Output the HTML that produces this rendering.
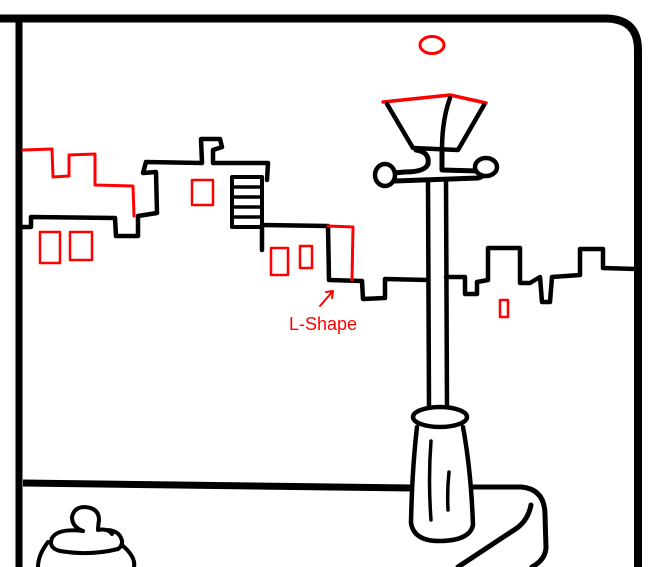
<!DOCTYPE html>
<html><head><meta charset="utf-8"><style>
html,body{margin:0;padding:0;background:#fff;}
svg{display:block}
</style></head><body>
<svg width="650" height="567" viewBox="0 0 650 567" xmlns="http://www.w3.org/2000/svg" fill="none" stroke-linejoin="round" stroke-linecap="round">
<path d="M0 18.5 H605 Q638 18.5 638 50 V567" stroke="#000" stroke-width="8" stroke-linecap="butt"/>
<line x1="19" y1="18" x2="19" y2="567" stroke="#000" stroke-width="7" stroke-linecap="butt"/>
<polyline points="23,150 52,149 53,177 69,176 69,155 95,154 95,185 133,186 134,216" stroke="#f00" stroke-width="3"/>
<polyline points="20,227 31,227 31,217 115,218 116,236 138,236 138,216 157,213 156,172 143,173 146,162 202,163 201,139 220,139 222,147 213,150 213,163 268,163 267,180" stroke="#000" stroke-width="4.5"/>
<rect x="232" y="177" width="30" height="50" stroke="#000" stroke-width="4"/>
<path d="M232 187H262M232 197H262M232 207H262M232 217H262" stroke="#000" stroke-width="3.5"/>
<polyline points="262,225 328,226 329,280 362,281 363,299 385,298 385,279 428,280" stroke="#000" stroke-width="4.5"/>
<line x1="262" y1="225" x2="262" y2="250" stroke="#000" stroke-width="4.5"/>
<polyline points="446,277 465,277 465,294 477,294 477,282 488,280 488,248 520,248 520,283 530,283 540,277 542,302 550,302 552,277 580,275 580,249 603,249 603,268 636,269" stroke="#000" stroke-width="4.5"/>
<polyline points="328,226 353,227 352,280" stroke="#f00" stroke-width="3"/>
<g stroke="#f00" stroke-width="2.5">
<rect x="40" y="232" width="20" height="31"/>
<rect x="70" y="232" width="22" height="28"/>
<rect x="192" y="180" width="21" height="25"/>
<rect x="271" y="248" width="17" height="27"/>
<rect x="300" y="246" width="12" height="22"/>
<rect x="500" y="300" width="8" height="17"/>
</g>
<path d="M320 306 L333 291 M326 292 L333 291 L332 298" stroke="#f00" stroke-width="2"/>
<text x="289" y="330" font-family="Liberation Sans, sans-serif" font-size="18" fill="#f00">L-Shape</text>
<ellipse cx="432" cy="45" rx="12" ry="8.5" stroke="#f00" stroke-width="3"/>
<polyline points="383,102 450,95 486,103" stroke="#f00" stroke-width="3.5"/>
<path d="M387 104 L413 148 L458 150 L484 105" stroke="#000" stroke-width="4.5"/>
<path d="M450 98 Q442 120 442 150" stroke="#000" stroke-width="4.5"/>
<path d="M416 150 Q430 152 428 164 Q425 172 405 172 L393 173" stroke="#000" stroke-width="5"/>
<path d="M442 150 L442 170 L478 171" stroke="#000" stroke-width="5"/>
<path d="M395 181 L478 178 Q485 176 485 172" stroke="#000" stroke-width="5"/>
<ellipse cx="385" cy="175" rx="10" ry="11" stroke="#000" stroke-width="4.5" fill="#fff"/>
<ellipse cx="486" cy="167" rx="11" ry="9" stroke="#000" stroke-width="4.5" fill="#fff"/>
<line x1="428" y1="181" x2="429" y2="408" stroke="#000" stroke-width="4.5"/>
<line x1="446" y1="180" x2="447" y2="408" stroke="#000" stroke-width="4.5"/>
<path d="M23 483 L412 488" stroke="#000" stroke-width="7" stroke-linecap="butt"/>
<path d="M472 487 L521 487 Q545 489 545 515 L546 548 Q545 560 532 567" stroke="#000" stroke-width="5"/>
<path d="M531 505 Q528 520 517 528 L458 567" stroke="#000" stroke-width="5"/>
<path d="M417 427 Q412 470 411 523 Q414 542 442 541 Q470 540 473 525 Q471 470 463 427" stroke="#000" stroke-width="4.5" fill="#fff"/>
<ellipse cx="440" cy="417" rx="27" ry="10" stroke="#000" stroke-width="4.5" fill="#fff"/>
<path d="M431 441 Q428 480 431 520" stroke="#000" stroke-width="3.5"/>
<path d="M449 472 Q447 490 448 510" stroke="#000" stroke-width="3.5"/>
<path d="M83 531 Q72 527 72 517 Q74 507 85 507 Q99 508 99 520 Q98 527 98 530 Q108 528 112 534" stroke="#000" stroke-width="4"/>
<path d="M83 531 Q58 528 52 538 Q48 548 60 551 Q90 556 118 549 Q125 544 120 536 Q116 530 106 530" stroke="#000" stroke-width="4"/>
<path d="M48 542 Q38 555 38 567 M122 545 Q136 557 134 567" stroke="#000" stroke-width="4"/>
</svg>
</body></html>
